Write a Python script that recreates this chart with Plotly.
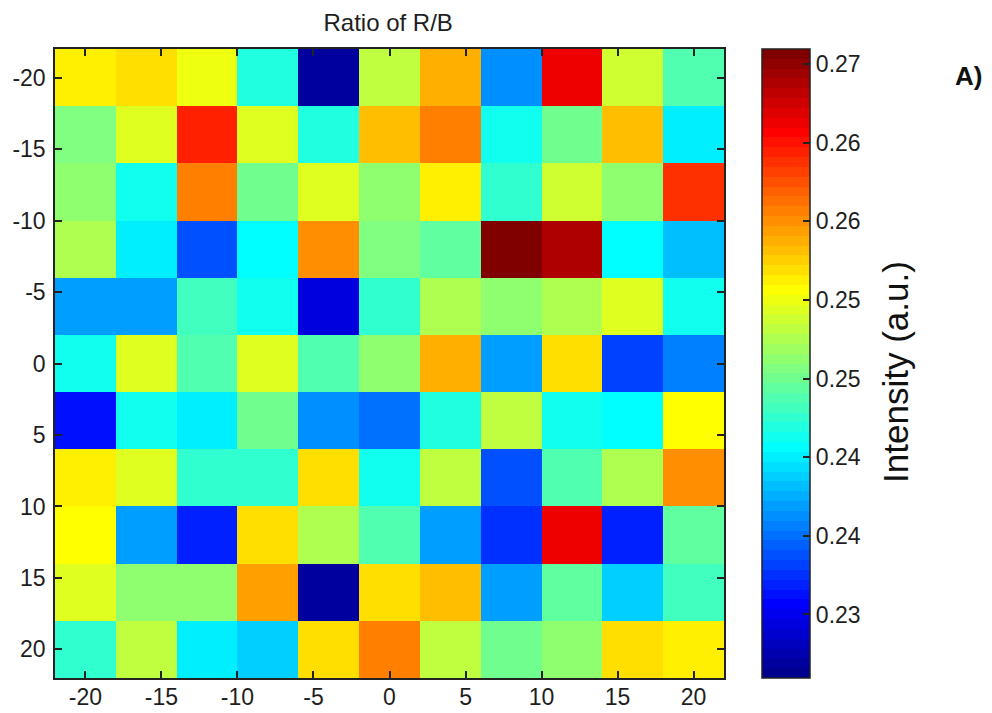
import numpy as np
import plotly.graph_objects as go

# ---- data ----
x_pos = [-20, -16, -12, -8, -4, 0, 4, 8, 12, 16, 20]
y_pos = [-20, -16, -12, -8, -4, 0, 4, 8, 12, 16, 20]

row_m20 = [0.2535, 0.2545, 0.2525, 0.2445, 0.2293, 0.2509, 0.2561, 0.2385, 0.2635, 0.2515, 0.2465]
row_m16 = [0.2481, 0.2521, 0.2621, 0.2521, 0.2445, 0.2555, 0.2581, 0.2435, 0.2475, 0.2555, 0.2425]
row_m12 = [0.2489, 0.2435, 0.2581, 0.2475, 0.2521, 0.2485, 0.2535, 0.2449, 0.2515, 0.2485, 0.2615]
row_m8 = [0.2501, 0.2425, 0.2365, 0.2429, 0.2573, 0.2481, 0.2469, 0.2683, 0.2661, 0.2429, 0.2409]
row_m4 = [0.2395, 0.2395, 0.2455, 0.2435, 0.2317, 0.2449, 0.2501, 0.2489, 0.2501, 0.2521, 0.2435]
row_0 = [0.2435, 0.2521, 0.2465, 0.2521, 0.2465, 0.2485, 0.2561, 0.2397, 0.2541, 0.2355, 0.2381]
row_4 = [0.2337, 0.2435, 0.2423, 0.2475, 0.2385, 0.2375, 0.2445, 0.2509, 0.2435, 0.2429, 0.2529]
row_8 = [0.2535, 0.2521, 0.2449, 0.2449, 0.2541, 0.2435, 0.2509, 0.2365, 0.2465, 0.2503, 0.2573]
row_12 = [0.2529, 0.2397, 0.2345, 0.2541, 0.2503, 0.2465, 0.2397, 0.2349, 0.2635, 0.2347, 0.2469]
row_16 = [0.2521, 0.2485, 0.2489, 0.2569, 0.2297, 0.2541, 0.2555, 0.2397, 0.2469, 0.2415, 0.2455]
row_20 = [0.2449, 0.2509, 0.2423, 0.2415, 0.2541, 0.2581, 0.2509, 0.2475, 0.2485, 0.2541, 0.2535]

z_rows = [row_m20, row_m16, row_m12, row_m8, row_m4, row_0, row_4, row_8, row_12, row_16, row_20]

axis_tickvals = [-20, -15, -10, -5, 0, 5, 10, 15, 20]
axis_ticktext = ["-20", "-15", "-10", "-5", "0", "5", "10", "15", "20"]
cbar_tickvals = [0.2325, 0.2375, 0.2425, 0.2475, 0.2525, 0.2575, 0.2625, 0.2675]
cbar_ticktext = ["0.23", "0.24", "0.24", "0.25", "0.25", "0.26", "0.26", "0.27"]
c_min, c_max = 0.22846, 0.26846

# ---- MATLAB jet(64) discrete colormap ----
def matlab_jet(m=64):
    n = int(np.ceil(m / 4))
    u = np.concatenate([np.arange(1, n + 1) / n, np.ones(n - 1), np.arange(n, 0, -1) / n])
    g = int(np.ceil(n / 2)) - (1 if m % 4 == 1 else 0) + np.arange(1, len(u) + 1)
    r = g + n
    b = g - n
    g = g[g <= m]
    r = r[r <= m]
    b = b[b >= 1]
    J = np.zeros((m, 3))
    J[r - 1, 0] = u[:len(r)]
    J[g - 1, 1] = u[:len(g)]
    J[b - 1, 2] = u[len(u) - len(b):]
    return J

jet = matlab_jet(64)
colorscale = []
for k, c in enumerate(jet):
    col = "rgb(%d,%d,%d)" % tuple(int(round(v * 255)) for v in c)
    colorscale.append([k / 64, col])
    colorscale.append([(k + 1) / 64, col])

font_family = "Arial, Liberation Sans, sans-serif"
txt_color = "#1e1e1e"

fig = go.Figure()
fig.add_trace(go.Heatmap(
    x=x_pos, y=y_pos, z=z_rows,
    colorscale=colorscale, zmin=c_min, zmax=c_max,
    colorbar=dict(
        x=1.0568, xanchor="left", xpad=0,
        y=0.5, yanchor="middle", len=1.0, lenmode="fraction", ypad=0,
        thickness=48,
        outlinecolor="#222222", outlinewidth=1.5,
        tickvals=cbar_tickvals, ticktext=cbar_ticktext,
        ticks="inside", ticklen=7, tickwidth=1.5, tickcolor="#222222",
        tickfont=dict(family=font_family, size=23, color=txt_color),
    ),
    hoverinfo="x+y+z",
))

axis_common = dict(
    tickvals=axis_tickvals, ticktext=axis_ticktext,
    ticks="inside", ticklen=7, tickwidth=1.5, tickcolor="#222222",
    showline=True, linecolor="#222222", linewidth=1.5, mirror="ticks",
    showgrid=False, zeroline=False, automargin=False,
    tickfont=dict(family=font_family, size=23, color=txt_color),
)

fig.update_xaxes(range=[-22, 22], ticklabelstandoff=-2, **axis_common)
fig.update_yaxes(range=[22, -22], ticklabelstandoff=3, **axis_common)

fig.update_layout(
    width=992, height=713,
    margin=dict(l=55, r=268, t=49, b=35, autoexpand=False),
    paper_bgcolor="white", plot_bgcolor="white",
    title=dict(text="Ratio of R/B", x=0.498, xref="paper", xanchor="center",
               y=1 - 23 / 713, yanchor="middle",
               font=dict(family=font_family, size=24, color=txt_color)),
    annotations=[
        dict(text="Intensity (a.u.)", textangle=-90, xref="paper", yref="paper",
             x=1.257, y=0.4865, xanchor="center", yanchor="middle", showarrow=False,
             font=dict(family=font_family, size=35, color="#111111")),
        dict(text="<b>A)</b>", xref="paper", yref="paper",
             x=1.365, y=0.957, xanchor="center", yanchor="middle", showarrow=False,
             font=dict(family=font_family, size=26, color="#111111")),
    ],
)

fig.write_html("out.html")
